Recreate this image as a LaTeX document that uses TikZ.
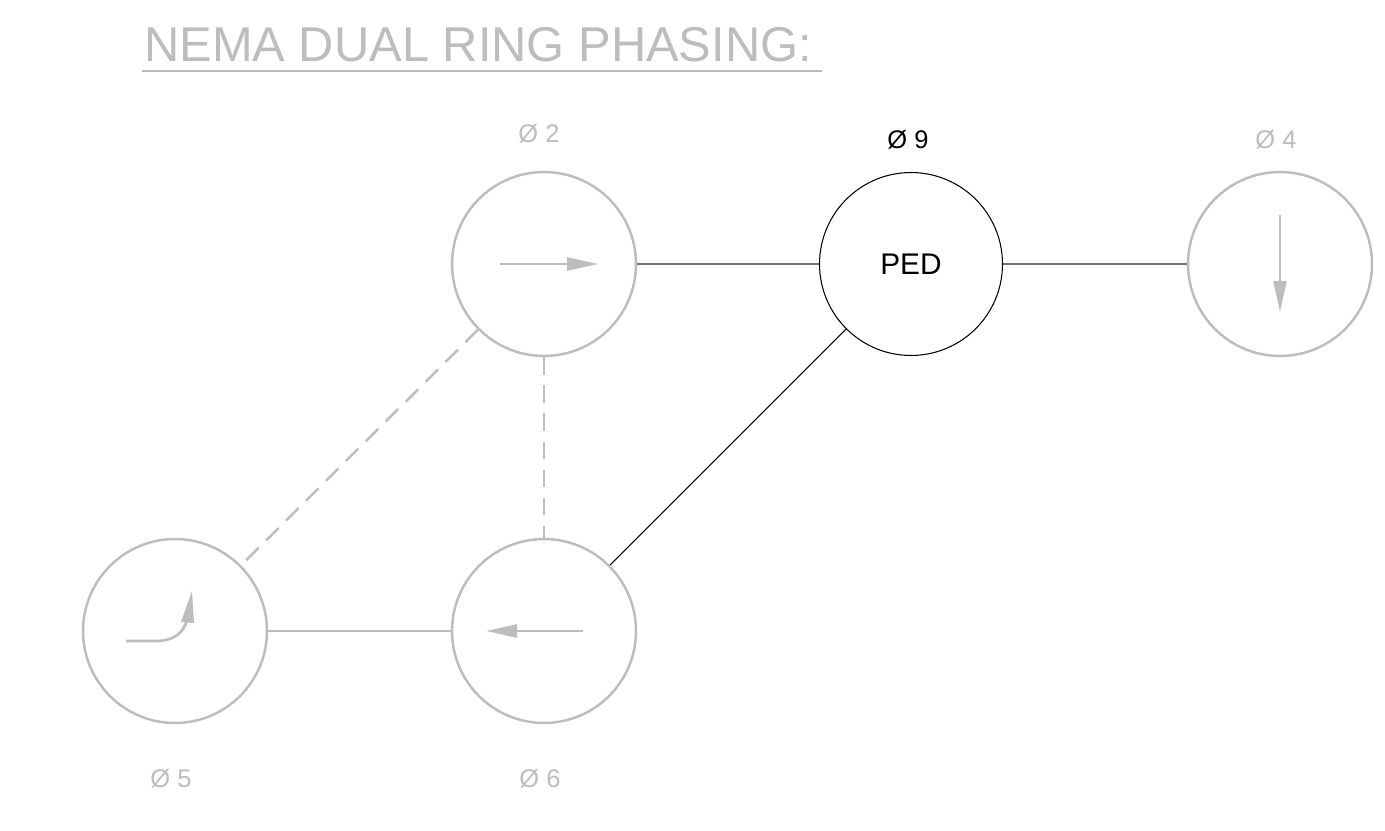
\documentclass[tikz,border=0pt]{standalone}
\usepackage{fontspec}
\setmainfont{Liberation Sans}
\usetikzlibrary{arrows.meta, positioning}

\definecolor{ringgray}{HTML}{BDBDBD}
\definecolor{linkgray}{HTML}{737373}

\begin{document}
\begin{tikzpicture}[
  x=0.02cm, y=-0.02cm,
  phase/.style={circle, draw=ringgray, line width=1.4pt, minimum size=3.68cm, inner sep=0pt},
  pedphase/.style={circle, draw=black, line width=0.6pt, minimum size=3.66cm, inner sep=0pt, font=\fontsize{17}{20}\selectfont},
  plabel/.style={text=ringgray, font=\fontsize{14.5}{17}\selectfont},
  dirarrow/.style={draw=ringgray, line width=1.5pt, -{Triangle[length=0.62cm, width=0.26cm]}},
  ringlink/.style={draw=ringgray, line width=1.4pt},
  darklink/.style={draw=linkgray, line width=0.9pt},
  barrier/.style={draw=ringgray, line width=1.4pt, dash pattern=on 10pt off 6pt}
]
\useasboundingbox (0,0) rectangle (1385,831);

% title
\node[anchor=base west, inner sep=0pt, text=ringgray, font=\fontsize{27.8}{32}\selectfont] (title) at (144,62) {NEMA DUAL RING PHASING:};
\draw[ringgray, line width=1.4pt] (title.base west) ++(-2,9) -- ++(680,0);

% phases
\node[phase] (p2) at (544,264) {};
\node[pedphase] (p9) at (911,264) {PED};
\node[phase] (p4) at (1280,264) {};
\node[phase] (p5) at (175,631) {};
\node[phase] (p6) at (544,631) {};

% labels
\node[plabel] (l2) at (539,134) {Ø 2};
\node[plabel, text=black] (l9) at (908,140) {Ø 9};
\node[plabel] (l4) at (1276,140) {Ø 4};
\node[plabel] (l5) at (171,779) {Ø 5};
\node[plabel] (l6) at (540,779) {Ø 6};

% links
\draw[darklink] (p2) -- (p9);
\draw[darklink] (p9) -- (p4);
\draw[black, line width=0.6pt] (p9) -- (p6);
\draw[ringlink] (p5) -- (p6);
\draw[barrier] (p2) -- (p5);
\draw[barrier] (p2) -- (p6);

% movements
\draw[dirarrow] (p2) ++(-44,0) -- ++(98,0);
\draw[dirarrow] (p6) ++(39,0) -- ++(-97,0);
\draw[dirarrow] (p4) ++(0,-49) -- ++(0,97);
% left turn
\draw[ringgray, line width=1.5pt] (126,641) -- (156,641) .. controls (172,641) and (184,634) .. (187,619);
\fill[ringgray] (192,591) -- (181,622) -- (194,623) -- cycle;
\end{tikzpicture}
\end{document}
